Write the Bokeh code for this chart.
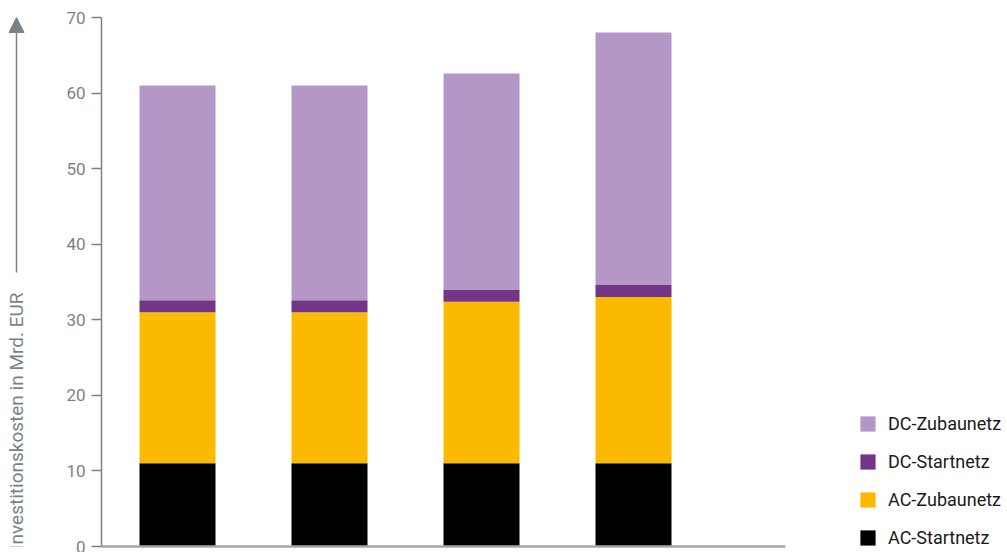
from bokeh.plotting import figure
from bokeh.layouts import row
from bokeh.models import (Range1d, Legend, LegendItem, Arrow, NormalHead, Label,
                          FixedTicker, ColumnDataSource)
from bokeh.embed import file_html
from bokeh.resources import INLINE

# ---- data ----
categories = ["Szenario 1", "Szenario 2", "Szenario 3", "Szenario 4"]
series = ["AC-Startnetz", "AC-Zubaunetz", "DC-Startnetz", "DC-Zubaunetz"]
ac_startnetz = [11.0, 11.0, 11.0, 11.0]
ac_zubaunetz = [20.0, 20.0, 21.4, 22.0]
dc_startnetz = [1.6, 1.6, 1.6, 1.6]
dc_zubaunetz = [28.4, 28.4, 28.6, 33.4]
y_ticks = [0, 10, 20, 30, 40, 50, 60, 70]
y_label = "Investitionskosten in Mrd. EUR"

# ---- styles ----
colors = ["#000000", "#fbb900", "#723587", "#b497c7"]
FONT = "Roboto"
GRAY = "#7b8287"

x_pos = [i + 0.5 for i in range(len(categories))]
source = ColumnDataSource(dict(
    x=x_pos,
    **{series[0]: ac_startnetz, series[1]: ac_zubaunetz,
       series[2]: dc_startnetz, series[3]: dc_zubaunetz}))

LEFT_W = 40
p = figure(title=None, frame_width=684, frame_height=529,
           x_range=Range1d(0, len(categories) + 0.5),
           y_range=Range1d(0, 70),
           output_backend="svg", toolbar_location=None,
           min_border_left=101 - LEFT_W, min_border_right=0,
           min_border_top=17, min_border_bottom=6)

renderers = p.vbar_stack(series, x="x", width=0.5, color=colors, source=source,
                         line_color=None)

p.xgrid.visible = False
p.ygrid.visible = False
p.outline_line_color = None

# y axis
yax = p.yaxis[0]
yax.ticker = FixedTicker(ticks=y_ticks)
yax.minor_tick_line_color = None
yax.major_tick_in = 0
yax.major_tick_out = 10
yax.major_tick_line_color = GRAY
yax.major_tick_line_width = 1.5
yax.axis_line_color = GRAY
yax.axis_line_width = 1.5
yax.major_label_text_font = FONT
yax.major_label_text_font_size = "17px"
yax.major_label_text_color = GRAY
yax.major_label_standoff = 6

# x axis (line only)
xax = p.xaxis[0]
xax.ticker = FixedTicker(ticks=[])
xax.minor_tick_line_color = None
xax.major_tick_line_color = None
xax.major_label_text_font_size = "0px"
xax.major_label_standoff = 0
xax.axis_line_color = "#a4a8ac"
xax.axis_line_width = 2.5

# legend in right panel
items = [LegendItem(label=s, renderers=[r]) for s, r in zip(series, renderers)][::-1]
legend = Legend(items=items, location=(73, -2), orientation="vertical",
                glyph_width=19, glyph_height=19, label_height=19,
                label_standoff=11, spacing=17, padding=0, margin=0,
                border_line_color=None, background_fill_alpha=0,
                label_text_font=FONT, label_text_font_size="18px",
                label_text_color="#1a1a1a")
p.add_layout(legend, "right")
p.min_border_right = 0

# left strip: y-axis title with arrow (shares the y data scale and frame)
px_per_unit = 529 / 70.0
left = figure(title=None, frame_width=LEFT_W, frame_height=529,
              x_range=Range1d(0, LEFT_W),
              y_range=p.y_range,
              output_backend="svg", toolbar_location=None,
              x_axis_location=None, y_axis_location=None,
              min_border_left=0, min_border_right=0,
              min_border_top=17, min_border_bottom=6)
left.outline_line_color = None
left.xgrid.visible = False
left.ygrid.visible = False
left.add_layout(Label(x=16, y=(546 - 292) / px_per_unit, text=y_label, angle=1.5708,
                      text_align="right", text_baseline="middle",
                      text_font=FONT, text_font_size="19px", text_color=GRAY))
left.add_layout(Arrow(end=NormalHead(size=15, fill_color=GRAY, line_color=GRAY),
                      x_start=16, y_start=(546 - 272) / px_per_unit, x_end=16, y_end=70,
                      line_color=GRAY, line_width=1.5))

layout = row(left, p, spacing=0)
open("out.html", "w").write(file_html(layout, INLINE))
